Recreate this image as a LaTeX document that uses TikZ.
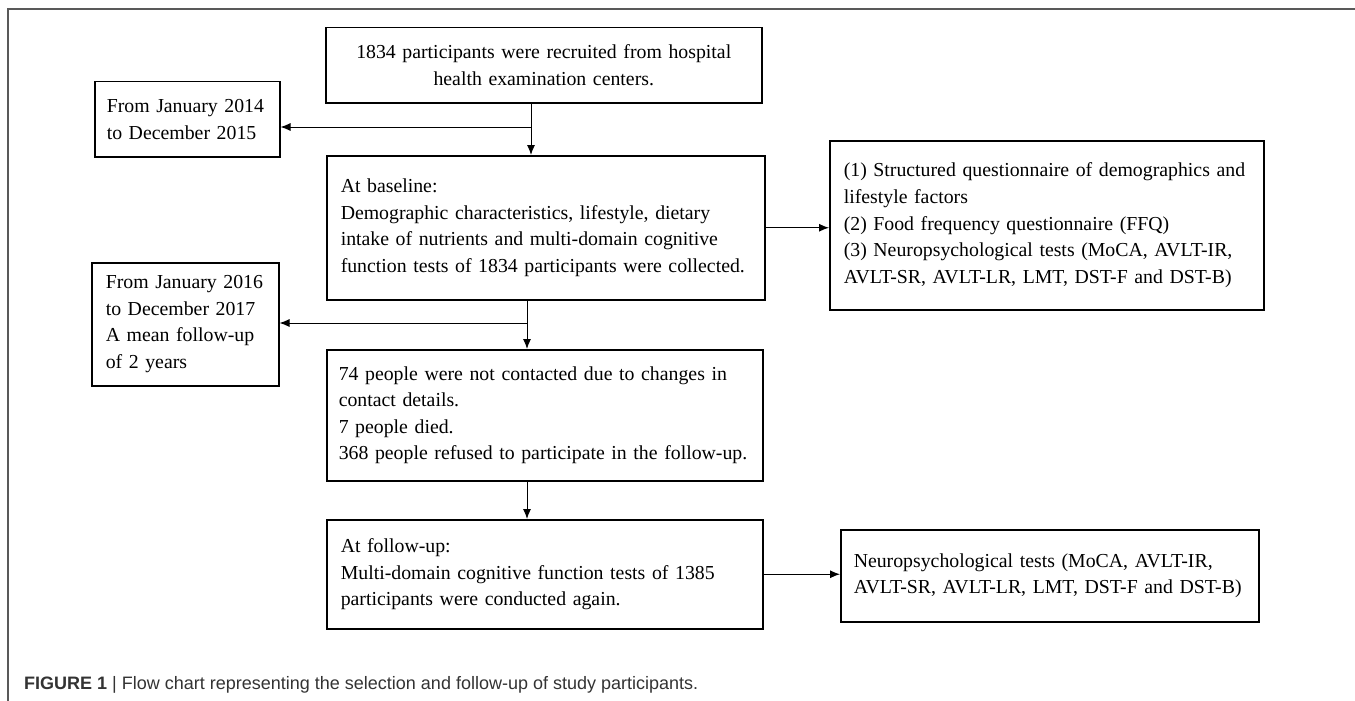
\documentclass[tikz,border=0pt]{standalone}
\usepackage{fontspec}
\setmainfont{Liberation Serif}
\setsansfont{Liberation Sans}
\usetikzlibrary{arrows.meta}
\hyphenpenalty=10000
\exhyphenpenalty=10000

\begin{document}
\begin{tikzpicture}[x=1pt,y=-1pt,
    box/.style={draw, line width=1.5pt, anchor=north west, inner xsep=14pt, inner ysep=0pt,
      align=left, font=\fontsize{19.8}{26.6}\selectfont},
    link/.style={line width=1pt, -{Latex[length=10pt,width=8pt]}}]
  \useasboundingbox (0,0) rectangle (1355,701);
  \draw[black!65, line width=1.5pt] (8,701) -- (8,9) -- (1355,9);

  \node[box, text width=408pt, minimum height=75pt, align=center] (recruit) at (325,27)
    {1834 participants were recruited from hospital\\health examination centers.};
  \node[box, inner xsep=12pt, text width=161pt, minimum height=75pt] (period1) at (94,81)
    {From January 2014\\to December 2015};
  \node[box, text width=410pt, minimum height=144pt] (baseline) at (326,155)
    {At baseline:\\Demographic characteristics, lifestyle, dietary\\intake of nutrients and multi-domain cognitive\\function tests of 1834 participants were collected.};
  \node[box, text width=406pt, minimum height=169pt] (items) at (829,140)
    {\makebox[\linewidth][s]{(1) Structured questionnaire of demographics and}\\lifestyle factors\\(2) Food frequency questionnaire (FFQ)\\\makebox[\linewidth][s]{(3) Neuropsychological tests (MoCA, AVLT-IR,}\\AVLT-SR, AVLT-LR, LMT, DST-F and DST-B)};
  \node[box, text width=159pt, minimum height=123pt] (period2) at (91,262)
    {From January 2016\\to December 2017\\\makebox[\linewidth][s]{A mean follow-up}\\of 2 years};
  \node[box, inner xsep=12pt, text width=412pt, minimum height=131pt] (losses) at (326,349)
    {\makebox[\linewidth][s]{74 people were not contacted due to changes in}\\contact details.\\7 people died.\\368 people refused to participate in the follow-up.};
  \node[box, text width=408pt, minimum height=109pt] (followup) at (326,519)
    {At follow-up:\\Multi-domain cognitive function tests of 1385\\participants were conducted again.};
  \node[box, inner xsep=13pt, text width=392pt, minimum height=92pt] (tests) at (840,529)
    {\makebox[\linewidth][s]{Neuropsychological tests (MoCA, AVLT-IR,}\\AVLT-SR, AVLT-LR, LMT, DST-F and DST-B)};

  \coordinate (split1) at (531,127);
  \coordinate (split2) at (527,323);
  \draw[link] (split1 |- recruit.south) -- (split1 |- baseline.north);
  \draw[link] (split1) -- (split1 -| period1.east);
  \draw[link] (baseline.east) -- (baseline.east -| items.west);
  \draw[link] (split2 |- baseline.south) -- (split2 |- losses.north);
  \draw[link] (split2) -- (split2 -| period2.east);
  \draw[link] (split2 |- losses.south) -- (split2 |- followup.north);
  \draw[link] (followup.east) -- (followup.east -| tests.west);

  \node[anchor=base west, inner sep=0pt, text=black!80, font=\sffamily\fontsize{18}{20}\selectfont] (caption) at (24,689)
    {\textbf{FIGURE 1} | Flow chart representing the selection and follow-up of study participants.};
\end{tikzpicture}
\end{document}
